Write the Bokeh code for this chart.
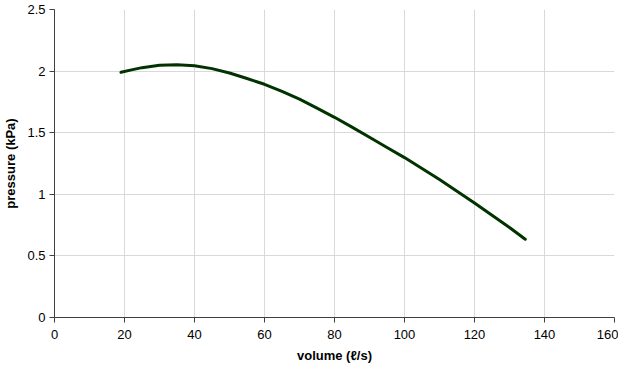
from bokeh.plotting import figure
from bokeh.embed import file_html
from bokeh.resources import INLINE
from bokeh.models import Range1d, FixedTicker

volume = [19, 22, 25, 30, 35, 40, 45, 50, 55, 60, 65, 70, 75, 80, 85, 90, 95,
          100, 105, 110, 115, 120, 125, 130, 134.5]
pressure = [1.99, 2.01, 2.028, 2.047, 2.052, 2.044, 2.02, 1.985, 1.94, 1.893,
            1.835, 1.772, 1.70, 1.625, 1.545, 1.463, 1.38, 1.298, 1.21, 1.12,
            1.025, 0.93, 0.83, 0.73, 0.635]
x_ticks = [0, 20, 40, 60, 80, 100, 120, 140, 160]
y_ticks = [0, 0.5, 1, 1.5, 2, 2.5]

p = figure(frame_width=560, frame_height=308, output_backend="svg", toolbar_location=None,
           x_range=Range1d(0, 160), y_range=Range1d(0, 2.5),
           min_border_left=45, min_border_right=4, min_border_top=9, min_border_bottom=10)
p.outline_line_color = None
p.line(volume, pressure, line_color="#003300", line_width=3, line_join="round", line_cap="round")

for ax in (p.xaxis[0], p.yaxis[0]):
    ax.axis_line_color = "#404040"
    ax.major_tick_line_color = "#404040"
    ax.major_tick_out = 5
    ax.major_tick_in = 0
    ax.minor_tick_line_color = None
    ax.major_label_text_font = "Liberation Sans"
    ax.major_label_text_font_size = "13px"
    ax.major_label_text_color = "#000000"
    ax.axis_label_text_font = "Liberation Sans"
    ax.axis_label_text_font_size = "13px"
    ax.axis_label_text_font_style = "bold"
    ax.axis_label_text_color = "#000000"

p.xaxis.ticker = FixedTicker(ticks=x_ticks)
p.yaxis.ticker = FixedTicker(ticks=y_ticks)
p.xaxis.axis_label = "volume (ℓ/s)"
p.yaxis.axis_label = "pressure (kPa)"
p.xaxis.major_label_standoff = 7
p.xaxis.axis_label_standoff = 6
p.yaxis.major_label_standoff = 4
p.yaxis.axis_label_standoff = 6

p.xgrid.grid_line_color = "#d9d9d9"
p.ygrid.grid_line_color = "#d9d9d9"

open("out.html", "w").write(file_html(p, INLINE))
